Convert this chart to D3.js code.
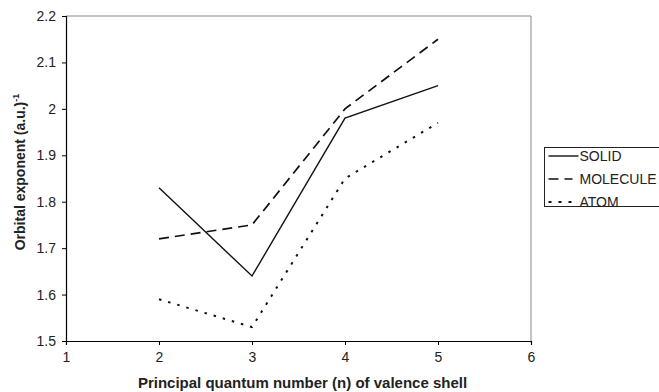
<!DOCTYPE html>
<html>
<head>
<meta charset="utf-8">
<script src="https://cdn.jsdelivr.net/npm/d3@7"></script>
<style>
  body { margin: 0; background: #fff; }
  svg { font-family: "Liberation Sans", Arial, sans-serif; }
</style>
</head>
<body>
<div id="chart"></div>
<script>
// values
var shells = [2, 3, 4, 5];
var solid = [1.83, 1.64, 1.98, 2.05];
var molecule = [1.72, 1.75, 2.0, 2.15];
var atom = [1.59, 1.53, 1.85, 1.97];
var seriesNames = ["SOLID", "MOLECULE", "ATOM"];
var xTicks = [1, 2, 3, 4, 5, 6];
var yTicks = [1.5, 1.6, 1.7, 1.8, 1.9, 2, 2.1, 2.2];

var width = 659, height = 392;
var margin = {top: 16, right: 128, bottom: 51, left: 66};

var svg = d3.select("#chart").append("svg")
    .attr("width", width)
    .attr("height", height);

var xScale = d3.scaleLinear()
    .domain([1, 6])
    .range([margin.left, width - margin.right]);

var yScale = d3.scaleLinear()
    .domain([1.5, 2.2])
    .range([height - margin.bottom, margin.top]);

// plot area frame (top and right in grey)
svg.append("path")
    .attr("d", "M" + xScale(1) + "," + yScale(2.2) + "H" + xScale(6) + "V" + yScale(1.5))
    .attr("fill", "none")
    .attr("stroke", "#888")
    .attr("stroke-width", 1);

// x axis
var xAxis = svg.append("g")
    .attr("transform", "translate(0," + yScale(1.5) + ")")
    .call(d3.axisBottom(xScale).tickValues(xTicks).tickFormat(d3.format("d")).tickSize(4).tickPadding(7));

// y axis
var yAxis = svg.append("g")
    .attr("transform", "translate(" + xScale(1) + ",0)")
    .call(d3.axisLeft(yScale).tickValues(yTicks).tickFormat(function(d) { return String(d); }).tickSize(4).tickPadding(6));

[xAxis, yAxis].forEach(function(ax) {
    ax.select(".domain").attr("stroke", "#000").attr("stroke-width", 1.2);
    ax.selectAll(".tick line").attr("stroke", "#000");
    ax.selectAll(".tick text")
        .attr("fill", "#222")
        .style("font-size", "14px");
});

// axis titles
svg.append("text")
    .attr("x", (xScale(1) + xScale(6)) / 2 + 4)
    .attr("y", 388)
    .attr("text-anchor", "middle")
    .style("font-size", "15px")
    .style("font-weight", "bold")
    .attr("fill", "#222")
    .text("Principal quantum number (n) of valence shell");

var yTitle = svg.append("text")
    .attr("transform", "translate(25,172) rotate(-90)")
    .attr("text-anchor", "middle")
    .style("font-size", "14px")
    .style("font-weight", "bold")
    .attr("fill", "#222");
yTitle.append("tspan").text("Orbital exponent (a.u.)");
yTitle.append("tspan").attr("dy", -6).style("font-size", "9px").text("-1");

// series lines
var styles = [
    {dash: null, width: 1.4},
    {dash: "10,6", width: 1.7},
    {dash: "2.5,7", width: 2}
];
var allSeries = [solid, molecule, atom];

var line = d3.line()
    .x(function(d, i) { return xScale(shells[i]); })
    .y(function(d) { return yScale(d); });

svg.selectAll("path.series")
    .data(allSeries)
    .enter()
    .append("path")
        .attr("class", "series")
        .attr("d", line)
        .attr("fill", "none")
        .attr("stroke", "#111")
        .attr("stroke-width", function(d, i) { return styles[i].width; })
        .attr("stroke-dasharray", function(d, i) { return styles[i].dash; });

// legend
var legend = svg.append("g").attr("transform", "translate(544.5,147.5)");
legend.append("rect")
    .attr("width", 120)
    .attr("height", 59)
    .attr("fill", "#fff")
    .attr("stroke", "#222")
    .attr("stroke-width", 1);

var rows = legend.selectAll("g.row")
    .data(seriesNames)
    .enter()
    .append("g")
        .attr("class", "row")
        .attr("transform", function(d, i) { return "translate(0," + (8.5 + i * 23) + ")"; });

rows.append("line")
    .attr("x1", 4)
    .attr("x2", function(d, i) { return i == 0 ? 34 : 28; })
    .attr("stroke", "#111")
    .attr("stroke-width", function(d, i) { return styles[i].width; })
    .attr("stroke-dasharray", function(d, i) { return i == 2 ? "3,7" : styles[i].dash; });

rows.append("text")
    .attr("x", 35)
    .attr("dy", "0.36em")
    .style("font-size", "14px")
    .attr("fill", "#222")
    .text(function(d) { return d; });
</script>
</body>
</html>
